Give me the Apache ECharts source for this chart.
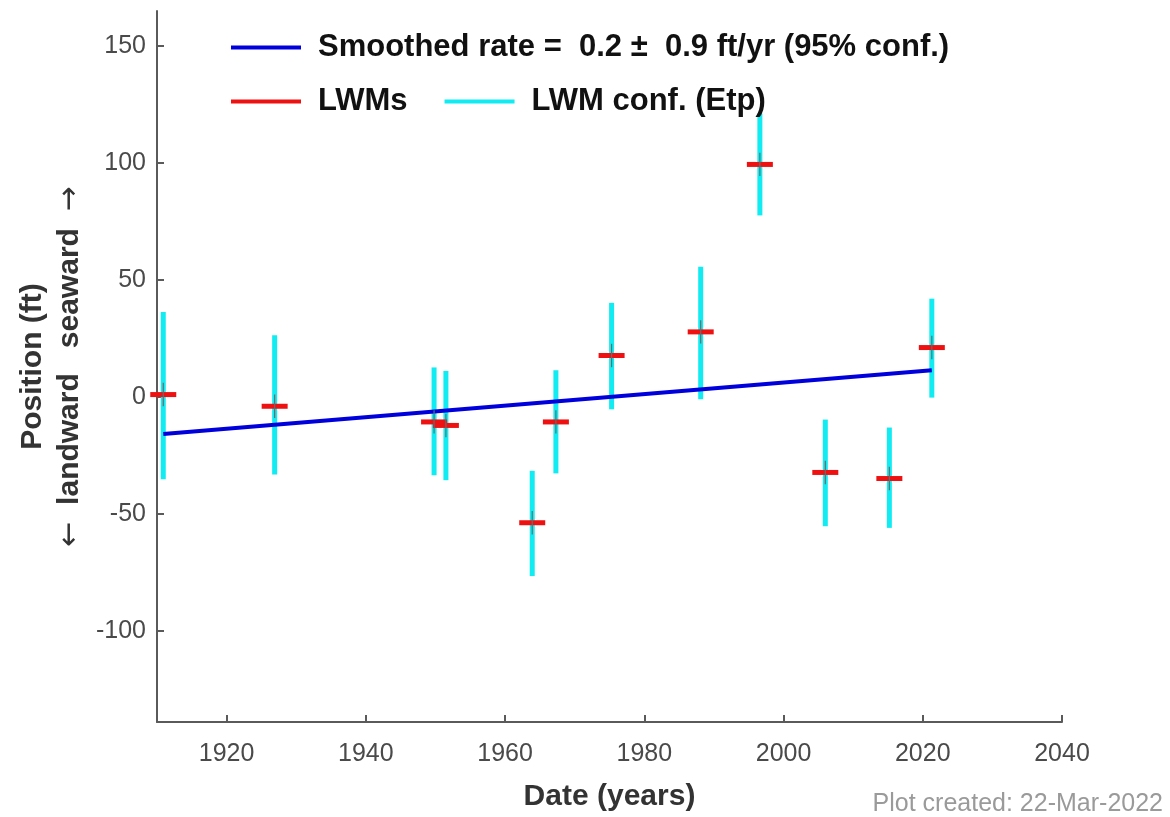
<!DOCTYPE html>
<html>
<head>
<meta charset="utf-8">
<script src="https://cdn.jsdelivr.net/npm/echarts@6/dist/echarts.min.js"></script>
<style>
  html, body { margin: 0; padding: 0; background: #fff; }
  #chart { width: 1170px; height: 817px; }
</style>
</head>
<body>
<div id="chart"></div>
<script>
// ---- data ----
const years      = [1910.9, 1926.9, 1949.8, 1951.5, 1963.9, 1967.3, 1975.3, 1988.1, 1996.6, 2006.0, 2015.2, 2021.3];
const lwmPos     = [1.0, -4.0, -10.7, -12.2, -53.8, -10.7, 17.7, 27.8, 99.4, -32.3, -34.9, 21.1];
const confHigh   = [36.3, 26.4, 12.6, 11.1, -31.6, 11.4, 40.2, 55.6, 121.2, -9.7, -13.1, 42.0];
const confLow    = [-35.2, -33.2, -33.5, -35.6, -76.6, -32.7, -5.3, -1.0, 77.6, -55.3, -56.0, -0.3];
const innerHalf  = [5, 5, 5, 5, 5, 5, 5, 5, 5, 5, 5, 5];
const trendYears = [1910.9, 2021.3];
const trendPos   = [-15.9, 11.4];
const xTicks     = [1920, 1940, 1960, 1980, 2000, 2020, 2040];
const yTicks     = [-100, -50, 0, 50, 100, 150];
const rateName   = 'Smoothed rate =  0.2 \u00b1  0.9 ft/yr (95% conf.)';
const lwmName    = 'LWMs';
const confName   = 'LWM conf. (Etp)';

const FONT = 'Liberation Sans, Arial, sans-serif';

const confData  = years.map((y, i) => [y, confLow[i], confHigh[i]]);
const innerData = years.map((y, i) => [y, lwmPos[i] - innerHalf[i], lwmPos[i] + innerHalf[i]]);
const lwmData   = years.map((y, i) => [y, lwmPos[i]]);
const trendData = trendYears.map((y, i) => [y, trendPos[i]]);

function vbar(width) {
  return function (params, api) {
    const x = api.value(0);
    const p1 = api.coord([x, api.value(1)]);
    const p2 = api.coord([x, api.value(2)]);
    return {
      type: 'line',
      shape: { x1: p1[0], y1: p1[1], x2: p2[0], y2: p2[1] },
      style: { stroke: api.visual('color'), lineWidth: width }
    };
  };
}

const legendText = { fontFamily: FONT, fontSize: 31, fontWeight: 'bold', color: '#111', padding: [0, 0, 0, 12] };

const chart = echarts.init(document.getElementById('chart'), null, { renderer: 'canvas' });
chart.setOption({
  animation: false,
  backgroundColor: '#ffffff',
  textStyle: { fontFamily: FONT },
  title: {
    text: 'Plot created: 22-Mar-2022',
    right: 7, top: 792, padding: 0,
    textStyle: { fontFamily: FONT, fontSize: 25, fontWeight: 'normal', color: '#9a9a9a' }
  },
  grid: { left: 157, right: 108, top: 11, bottom: 95 },
  legend: [
    {
      data: [rateName],
      left: 231, top: 32, padding: 0,
      icon: 'rect', itemWidth: 70, itemHeight: 4,
      textStyle: legendText,
      selectedMode: false
    },
    {
      data: [lwmName, confName],
      left: 231, top: 86, padding: 0, itemGap: 37,
      icon: 'rect', itemWidth: 70, itemHeight: 4,
      textStyle: legendText,
      selectedMode: false
    }
  ],
  xAxis: {
    type: 'value', min: 1910, max: 2040,
    name: 'Date (years)', nameLocation: 'middle', nameGap: 60,
    nameTextStyle: { fontFamily: FONT, fontSize: 30, fontWeight: 'bold', color: '#333' },
    axisLine: { show: true, onZero: false, lineStyle: { color: '#5a5a5a', width: 2 } },
    axisTick: { show: true, inside: true, length: 7, customValues: xTicks, lineStyle: { color: '#5a5a5a', width: 2 } },
    axisLabel: { customValues: xTicks, margin: 20, fontFamily: FONT, fontSize: 25, color: '#4a4a4a',
                 formatter: v => String(v) },
    splitLine: { show: false }
  },
  yAxis: {
    type: 'value', min: -139, max: 165,
    name: '{a|Position (ft)}\n{c|\u2190}{b|  landward   seaward  }{c|\u2192}',
    nameLocation: 'middle', nameRotate: 90, nameGap: 66,
    nameTextStyle: {
      rich: {
        a: { fontFamily: FONT, fontSize: 30, fontWeight: 'bold', color: '#333', lineHeight: 37 },
        b: { fontFamily: FONT, fontSize: 30, fontWeight: 'bold', color: '#333', lineHeight: 37 },
        c: { fontFamily: 'DejaVu Sans, sans-serif', fontSize: 30, fontWeight: 'normal', color: '#333', lineHeight: 37 }
      }
    },
    axisLine: { show: true, onZero: false, lineStyle: { color: '#5a5a5a', width: 2 } },
    axisTick: { show: true, inside: true, length: 7, customValues: yTicks, lineStyle: { color: '#5a5a5a', width: 2 } },
    axisLabel: { customValues: yTicks, margin: 11, fontFamily: FONT, fontSize: 25, color: '#4a4a4a' },
    splitLine: { show: false }
  },
  series: [
    {
      name: confName, type: 'custom', z: 2,
      itemStyle: { color: '#10ecf2' },
      renderItem: vbar(5),
      encode: { x: 0, y: [1, 2] },
      data: confData
    },
    {
      name: rateName, type: 'line', z: 4,
      showSymbol: false, symbol: 'none',
      itemStyle: { color: '#0000dc' },
      lineStyle: { color: '#0000dc', width: 4 },
      data: trendData
    },
    {
      name: lwmName, type: 'scatter', z: 3,
      symbol: 'rect', symbolSize: [26, 5],
      itemStyle: { color: '#ee1111', opacity: 1 },
      data: lwmData
    },
    {
      name: 'LWM inner', type: 'custom', z: 5,
      itemStyle: { color: '#6a6a6a' },
      renderItem: vbar(1.2),
      encode: { x: 0, y: [1, 2] },
      data: innerData
    }
  ]
});
</script>
</body>
</html>
